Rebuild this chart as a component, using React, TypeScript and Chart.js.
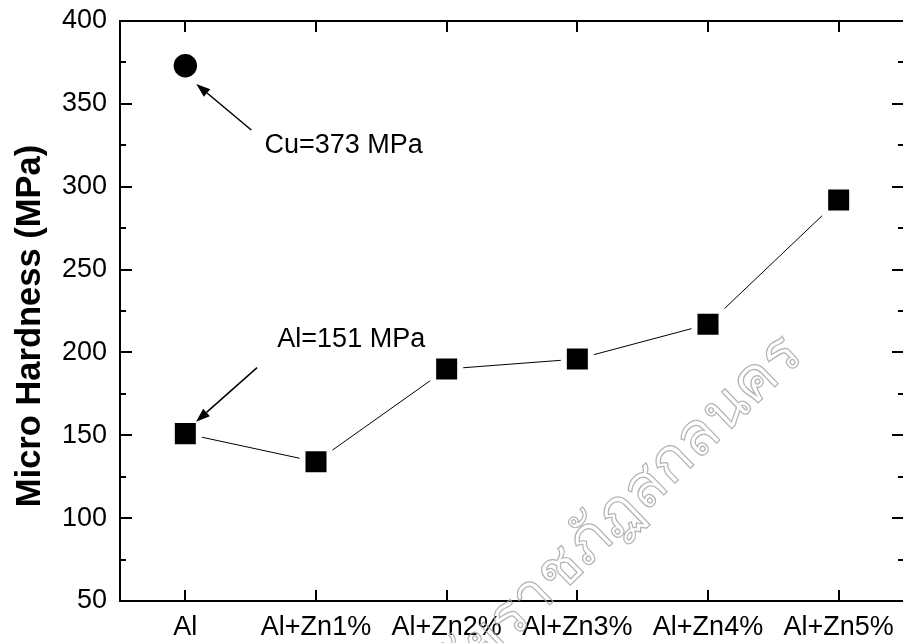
import React, { useEffect, useRef } from "react";
import { Chart, registerables } from "chart.js";

Chart.register(...registerables);

const categories = ["Al", "Al+Zn1%", "Al+Zn2%", "Al+Zn3%", "Al+Zn4%", "Al+Zn5%"];
const hardness = [151, 134, 190, 196, 217, 292];
const cuHardness = [373, null, null, null, null, null];
const yMin = 50;
const yMax = 400;
const yStep = 50;
const yMinorStep = 25;
const yTitle = "Micro Hardness (MPa)";
const watermark = "มหาวิทยาลัยราชภัฏสกลนคร";

// annotations in data coordinates: [category index, value]
const annotations = [
  { text: "Cu=373 MPa", textAt: [0.605, 324.6], from: [0.505, 334.2], to: [0.084, 362] },
  { text: "Al=151 MPa", textAt: [0.704, 207.5], from: [0.549, 190.8], to: [0.082, 158.2] },
];

const FONT = "'Liberation Sans', Arial, sans-serif";
const CANVAS_W = 929;

const framePlugin = {
  id: "frame",
  afterDatasetsDraw(chart: any) {
    const { ctx, chartArea: a, scales } = chart;
    const xs = scales.x;
    const ys = scales.y;
    ctx.save();
    ctx.strokeStyle = "#000";
    ctx.lineWidth = 2;
    ctx.beginPath();
    ctx.rect(a.left, a.top, a.right - a.left, a.bottom - a.top);
    ctx.stroke();
    ctx.beginPath();
    for (let v = yMin; v <= yMax + 1e-9; v += yMinorStep) {
      const y = Math.round(ys.getPixelForValue(v));
      const major = Math.abs((v - yMin) % yStep) < 1e-9;
      const len = major ? 12 : 6;
      ctx.moveTo(a.left, y);
      ctx.lineTo(a.left + len, y);
      ctx.moveTo(a.right, y);
      ctx.lineTo(a.right - len, y);
    }
    for (let i = 0; i < categories.length; i++) {
      const x = Math.round(xs.getPixelForValue(i));
      ctx.moveTo(x, a.bottom);
      ctx.lineTo(x, a.bottom - 11);
      ctx.moveTo(x, a.top);
      ctx.lineTo(x, a.top + 11);
    }
    ctx.stroke();

    // annotations
    ctx.fillStyle = "#000";
    ctx.lineWidth = 1.5;
    for (const an of annotations) {
      const x1 = xs.getPixelForValue(an.from[0]);
      const y1 = ys.getPixelForValue(an.from[1]);
      const x2 = xs.getPixelForValue(an.to[0]);
      const y2 = ys.getPixelForValue(an.to[1]);
      const ang = Math.atan2(y2 - y1, x2 - x1);
      const hl = 14;
      const hw = 5;
      const bx = x2 - hl * Math.cos(ang);
      const by = y2 - hl * Math.sin(ang);
      ctx.beginPath();
      ctx.moveTo(x1, y1);
      ctx.lineTo(bx, by);
      ctx.stroke();
      ctx.beginPath();
      ctx.moveTo(x2, y2);
      ctx.lineTo(bx + hw * Math.sin(ang), by - hw * Math.cos(ang));
      ctx.lineTo(bx - hw * Math.sin(ang), by + hw * Math.cos(ang));
      ctx.closePath();
      ctx.fill();
      ctx.font = `27px ${FONT}`;
      ctx.textAlign = "left";
      ctx.textBaseline = "middle";
      ctx.fillText(an.text, xs.getPixelForValue(an.textAt[0]), ys.getPixelForValue(an.textAt[1]));
    }

    // y title
    ctx.save();
    ctx.translate(30, (a.top + a.bottom) / 2 + 15);
    ctx.rotate(-Math.PI / 2);
    ctx.font = `bold 34.5px ${FONT}`;
    ctx.textAlign = "center";
    ctx.textBaseline = "middle";
    ctx.fillText(yTitle, 0, 0);
    ctx.restore();
    ctx.restore();
  },
  afterDraw(chart: any) {
    const { ctx } = chart;
    ctx.save();
    ctx.translate(805, 358);
    ctx.rotate(-44 * Math.PI / 180);
    ctx.font = `60px 'Noto Sans', 'DejaVu Sans', sans-serif`;
    ctx.textAlign = "right";
    ctx.textBaseline = "alphabetic";
    ctx.strokeStyle = "rgba(165,165,165,0.85)";
    ctx.lineWidth = 1.2;
    ctx.strokeText(watermark, 0, 0);
    ctx.restore();
  },
};

export default function App() {
  const ref = useRef<HTMLCanvasElement>(null);
  useEffect(() => {
    const canvas = ref.current!;
    const chart = new Chart(canvas, {
      type: "line",
      data: {
        labels: categories,
        datasets: [
          {
            data: hardness,
            borderColor: "#000",
            borderWidth: 1,
            pointStyle: "rect",
            pointRadius: 19.1,
            pointHoverRadius: 19.1,
            pointBackgroundColor: "#000",
            pointBorderColor: "#fff",
            pointBorderWidth: 6,
            tension: 0,
          },
          {
            data: cuHardness,
            showLine: false,
            pointStyle: "circle",
            pointRadius: 11.7,
            pointHoverRadius: 11.7,
            pointBackgroundColor: "#000",
            pointBorderColor: "#000",
            pointBorderWidth: 0,
          },
        ],
      },
      options: {
        animation: false,
        responsive: false,
        devicePixelRatio: 1,
        events: [],
        layout: { autoPadding: false, padding: { top: 21, left: 0, right: CANVAS_W - 904, bottom: 0 } },
        plugins: { legend: { display: false }, tooltip: { enabled: false } },
        scales: {
          x: {
            type: "category",
            offset: true,
            grid: { display: false, drawTicks: false },
            border: { display: false },
            ticks: {
              color: "#000",
              font: { family: FONT, size: 27 },
              padding: 10,
              maxRotation: 0,
              autoSkip: false,
            },
            afterFit: (s: any) => {
              s.height = 42;
              s.paddingLeft = 0;
              s.paddingRight = 0;
            },
          },
          y: {
            min: yMin,
            max: yMax,
            grid: { display: false, drawTicks: false },
            border: { display: false },
            ticks: {
              stepSize: yStep,
              color: "#000",
              font: { family: FONT, size: 27 },
              padding: 13,
            },
            afterFit: (s: any) => {
              s.width = 120;
              s.paddingTop = 0;
              s.paddingBottom = 0;
            },
          },
        },
      },
      plugins: [framePlugin],
    });
    return () => chart.destroy();
  }, []);
  return (
    <div style={{ position: "absolute", left: 0, top: 0, width: 903, height: 643, overflow: "hidden", background: "#fff" }}>
      <canvas ref={ref} width={CANVAS_W} height={643} style={{ display: "block" }} />
    </div>
  );
}
